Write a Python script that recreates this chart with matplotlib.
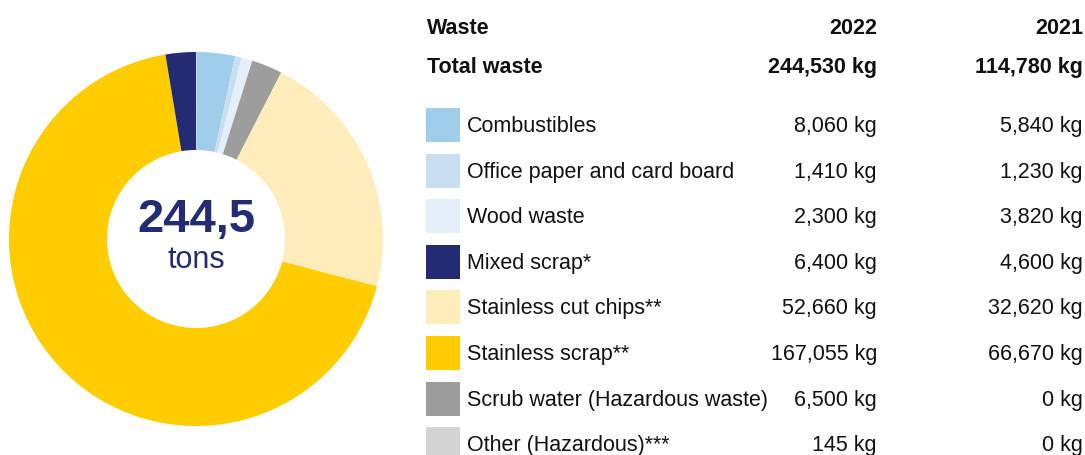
import matplotlib
matplotlib.use("Agg")
import matplotlib.pyplot as plt
from matplotlib.patches import Rectangle

plt.rcParams['font.family'] = ['Liberation Sans', 'DejaVu Sans']

# ---- data ----
categories = ["Combustibles", "Office paper and card board", "Wood waste",
              "Mixed scrap*", "Stainless cut chips**", "Stainless scrap**",
              "Scrub water (Hazardous waste)", "Other (Hazardous)***"]
values_2022 = [8060, 1410, 2300, 6400, 52660, 167055, 6500, 145]
values_2021 = [5840, 1230, 3820, 4600, 32620, 66670, 0, 0]
colors = ["#9fcdea", "#c8dff2", "#e4eff9", "#232b73", "#feedba", "#ffcc00",
          "#9d9d9d", "#d3d3d3"]
# order of slices clockwise from 12 o'clock
pie_order = [7, 0, 1, 2, 6, 4, 5, 3]
header = ["Waste", "2022", "2021"]
total_label = "Total waste"
center_value = "244,5"
center_unit = "tons"

W, H = 1085, 455
fig = plt.figure(figsize=(W / 100, H / 100), dpi=100)

# ---- donut ----
cx, cy, r = 196, 239, 187
ax = fig.add_axes([(cx - r) / W, (H - cy - r) / H, 2 * r / W, 2 * r / H])
ax.pie([values_2022[i] for i in pie_order],
       colors=[colors[i] for i in pie_order],
       startangle=90, counterclock=False, radius=1,
       wedgeprops=dict(width=0.524, linewidth=0))
ax.set_xlim(-1, 1)
ax.set_ylim(-1, 1)
ax.set_aspect('equal')
ax.axis('off')
ax.text(0, (cy - 232) / r, center_value, ha='center', va='baseline',
        fontsize=34, fontweight='bold', color="#232b73")
ax.text(0, (cy - 268) / r, center_unit, ha='center', va='baseline',
        fontsize=22, color="#232b73")

# ---- table ----
tx = fig.add_axes([0, 0, 1, 1])
tx.set_xlim(0, W)
tx.set_ylim(H, 0)
tx.axis('off')

txt = "#111111"
fs = 15.5
x_label, x_2022, x_2021 = 427, 877, 1083
for x, s, ha in [(x_label, header[0], 'left'), (x_2022, header[1], 'right'),
                 (x_2021, header[2], 'right')]:
    tx.text(x, 34, s, ha=ha, va='baseline', fontsize=fs, fontweight='bold',
            color=txt)

tot22 = sum(values_2022)
tot21 = sum(values_2021)
for x, s, ha in [(x_label, total_label, 'left'),
                 (x_2022, f"{tot22:,} kg", 'right'),
                 (x_2021, f"{tot21:,} kg", 'right')]:
    tx.text(x, 73, s, ha=ha, va='baseline', fontsize=fs, fontweight='bold',
            color=txt)

yb0, dy = 132, 45.6
for i, (cat, v22, v21, c) in enumerate(zip(categories, values_2022,
                                           values_2021, colors)):
    yb = yb0 + i * dy
    tx.add_patch(Rectangle((426, yb - 24), 34, 34, facecolor=c,
                           edgecolor='none'))
    tx.text(467, yb, cat, ha='left', va='baseline', fontsize=fs, color=txt)
    tx.text(x_2022, yb, f"{v22:,} kg", ha='right', va='baseline',
            fontsize=fs, color=txt)
    tx.text(x_2021, yb, f"{v21:,} kg", ha='right', va='baseline',
            fontsize=fs, color=txt)

fig.savefig("out.png", dpi=100)
